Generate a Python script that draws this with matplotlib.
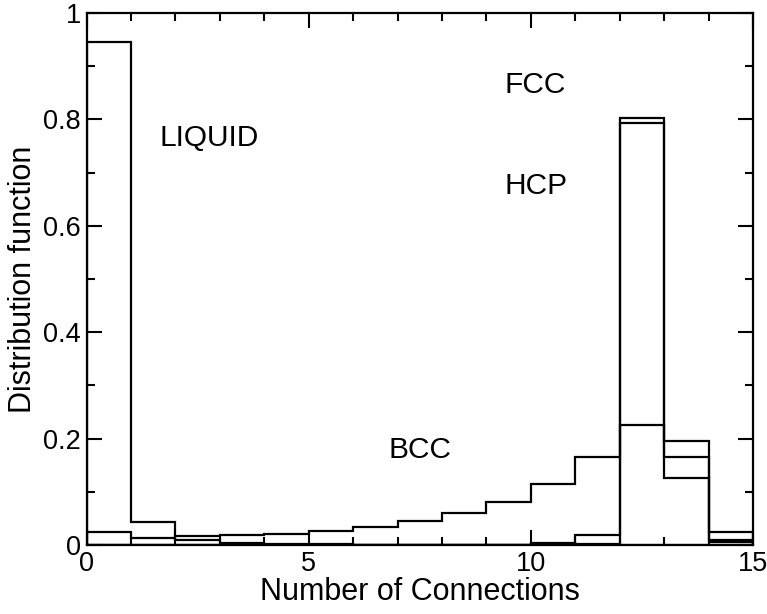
import numpy as np
import matplotlib.pyplot as plt
from matplotlib.ticker import MultipleLocator, FormatStrFormatter

# connection-number histograms, one bin per integer from 0 to 15
edges = np.arange(0, 16)
liquid = [0.945, 0.044, 0.009, 0.004, 0.002, 0.001, 0.0, 0.0, 0.0, 0.0,
          0.0, 0.0, 0.0, 0.0, 0.0]
bcc = [0.024, 0.014, 0.016, 0.019, 0.021, 0.027, 0.034, 0.045, 0.061, 0.080,
       0.115, 0.165, 0.226, 0.125, 0.025]
fcc = [0.0, 0.0, 0.0, 0.0, 0.0, 0.0, 0.0, 0.0, 0.0, 0.0,
       0.001, 0.019, 0.802, 0.165, 0.009]
hcp = [0.0, 0.0, 0.0, 0.0, 0.0, 0.0, 0.0, 0.0, 0.0, 0.0,
       0.004, 0.002, 0.793, 0.196, 0.006]

labels = ["LIQUID", "FCC", "HCP", "BCC"]
label_x = [1.65, 9.4, 9.4, 6.8]
label_y = [0.765, 0.865, 0.675, 0.178]

plt.rcParams.update({"font.family": "Liberation Sans"})

fig = plt.figure(figsize=(7.67, 6.14), dpi=100)
ax = fig.add_axes([0.1128, 0.1124, 0.8689, 0.8664])

for series in (liquid, bcc, fcc, hcp):
    ax.stairs(series, edges, color="black", linewidth=1.6, baseline=0)

for text, x, y in zip(labels, label_x, label_y):
    ax.text(x, y, text, fontsize=21.5, va="center", ha="left")

ax.set_xlim(0, 15)
ax.set_ylim(0, 1)
ax.xaxis.set_major_locator(MultipleLocator(5))
ax.xaxis.set_minor_locator(MultipleLocator(1))
ax.yaxis.set_major_locator(MultipleLocator(0.2))
ax.yaxis.set_minor_locator(MultipleLocator(0.1))
ax.yaxis.set_major_formatter(FormatStrFormatter("%g"))

ax.tick_params(which="both", direction="in", top=True, right=True,
               width=1.5, labelsize=19.5)
ax.tick_params(which="major", length=11, pad=4)
ax.tick_params(which="minor", length=5.5)
for spine in ax.spines.values():
    spine.set_linewidth(1.6)

ax.set_xlabel("Number of Connections", fontsize=22, labelpad=0)
ax.set_ylabel("Distribution function", fontsize=22, labelpad=4)

fig.savefig("out.png", dpi=100)
